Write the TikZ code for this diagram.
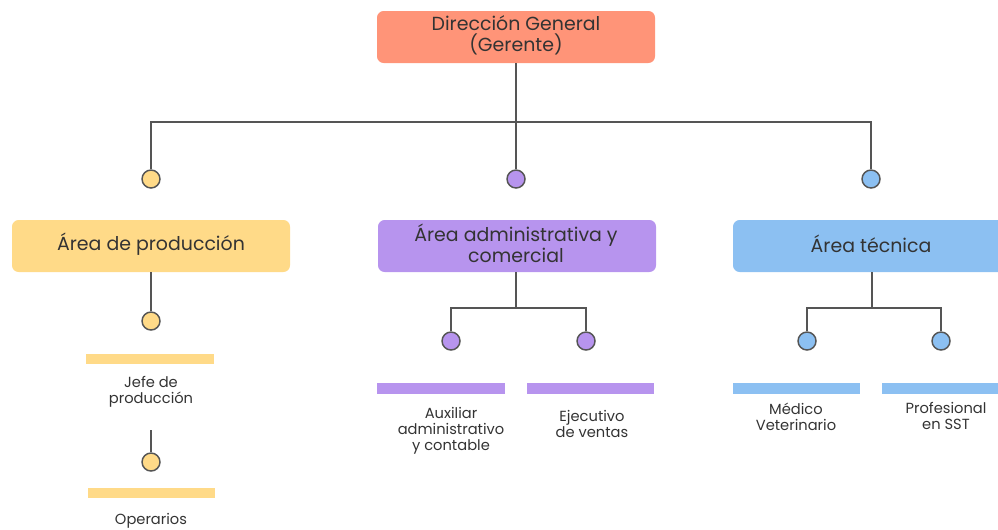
\documentclass[tikz,border=0pt]{standalone}
\usepackage{fontspec}
\setmainfont{Poppins}
\definecolor{salmon}{HTML}{FF9478}
\definecolor{yel}{HTML}{FFDA88}
\definecolor{pur}{HTML}{B794EE}
\definecolor{blu}{HTML}{8CC0F2}
\definecolor{ln}{HTML}{555555}
\definecolor{txt}{HTML}{333333}
\begin{document}
\begin{tikzpicture}[x=0.75pt,y=-0.75pt,
  box/.style={rounded corners=5pt,inner sep=0pt,align=center,text=txt,font=\fontsize{14.2}{15.8}\selectfont},
  dot/.style={circle,draw=ln,line width=1.1pt,minimum size=13.5pt,inner sep=0pt},
  lab/.style={align=center,text=txt,font=\fontsize{11}{12}\selectfont,anchor=north},
  conn/.style={draw=ln,line width=1.5pt}]
\useasboundingbox (0,0) rectangle (998,529);
% boxes
\fill[salmon,rounded corners=5pt] (377,11) rectangle (655,63);
\node[box] (top) at (516,35) {Dirección General\\(Gerente)};
\coordinate (topb) at (516,63);
\fill[yel,rounded corners=5pt] (12,220) rectangle (290,272);
\node[box] (prod) at (151,244) {Área de producción};
\coordinate (prodb) at (151,272);
\fill[pur,rounded corners=5pt] (378,220) rectangle (656,272);
\node[box] (adm) at (516,243) {Área administrativa y\\comercial};
\coordinate (admb) at (516,272);
\fill[blu,rounded corners=5pt] (733,220) rectangle (1010,272);
\node[box] (tec) at (871,244) {Área técnica};
\coordinate (tecb) at (872,272);
% top level connectors
\coordinate (j0) at (516,122);
\node[dot,fill=yel] (c1) at (151,179) {};
\node[dot,fill=pur] (c2) at (516,179) {};
\node[dot,fill=blu] (c3) at (871,179) {};
\draw[conn] (topb) -- (j0);
\draw[conn] (j0) -| (c1.north);
\draw[conn] (j0) -- (c2.north);
\draw[conn] (j0) -| (c3.north);
% production
\node[dot,fill=yel] (p1) at (151,321) {};
\draw[conn] (prodb) -- (p1.north);
\fill[yel] (86,354) rectangle (214,364);
\node[lab] (jefe) at (151,372) {Jefe de\\producción};
\coordinate (p2t) at (151,430);
\node[dot,fill=yel] (p2) at (151,462) {};
\draw[conn] (p2t) -- (p2.north);
\fill[yel] (88,488) rectangle (215,498);
\node[lab] (oper) at (151,509) {Operarios};
% admin
\coordinate (ja) at (516,308);
\node[dot,fill=pur] (a1) at (451,341) {};
\node[dot,fill=pur] (a2) at (586,341) {};
\draw[conn] (admb) -- (ja);
\draw[conn] (ja) -| (a1.north);
\draw[conn] (ja) -| (a2.north);
\fill[pur] (377,383) rectangle (505,394);
\fill[pur] (527,383) rectangle (654,394);
\node[lab] (aux) at (451,403) {Auxiliar\\administrativo\\y contable};
\node[lab] (eje) at (592,406) {Ejecutivo\\de ventas};
% tecnica
\coordinate (jt) at (872,308);
\node[dot,fill=blu] (t1) at (807,341) {};
\node[dot,fill=blu] (t2) at (941,341) {};
\draw[conn] (tecb) -- (jt);
\draw[conn] (jt) -| (t1.north);
\draw[conn] (jt) -| (t2.north);
\fill[blu] (733,383) rectangle (860,394);
\fill[blu] (882,383) rectangle (1010,394);
\node[lab] (med) at (796,398) {Médico\\Veterinario};
\node[lab] (sst) at (946,398) {Profesional\\en SST};
\end{tikzpicture}
\end{document}
